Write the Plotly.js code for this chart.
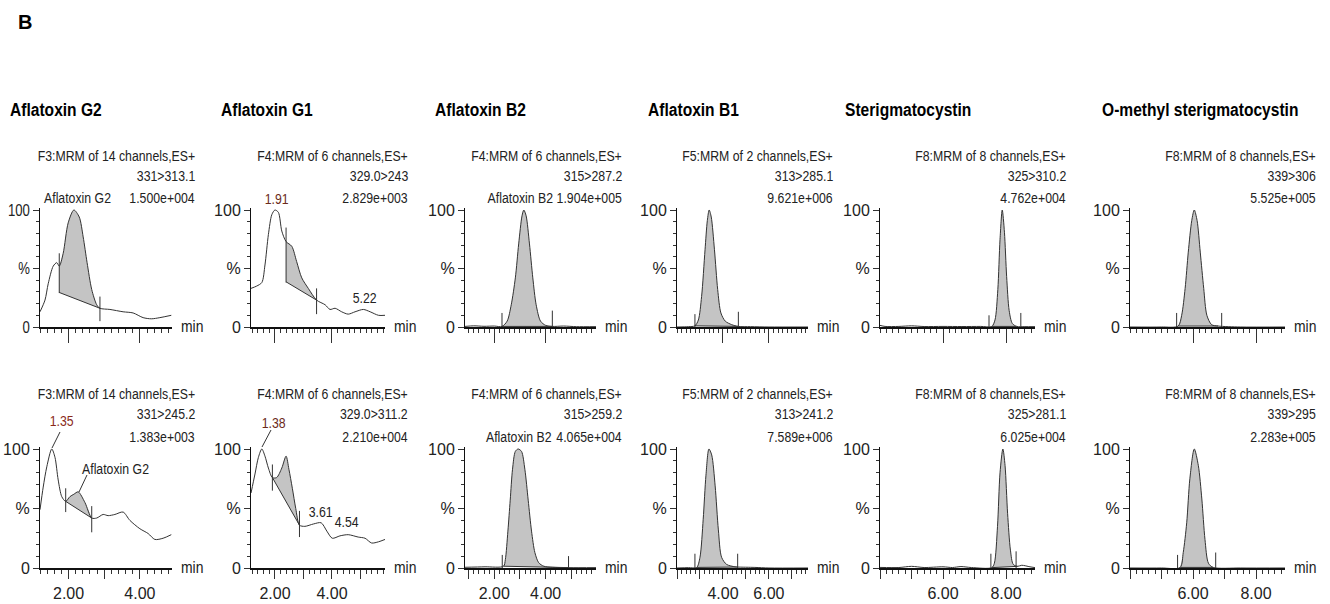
<!DOCTYPE html>
<html><head><meta charset="utf-8">
<script src="https://cdn.plot.ly/plotly-3.0.1.min.js"></script>
<style>html,body{margin:0;padding:0;background:#fff}#chart{width:1330px;height:604px}</style>
</head><body><div id="chart"></div>
<script>
// ---------- DATA (retention time in min, relative intensity %) ----------
// Aflatoxin G2 331>313.1
const g2aT = [1.20,1.34,1.43,1.57,1.67,1.74,1.85,1.99,2.15,2.30,2.41,2.52,2.65,2.79,2.88,3.16,3.53,3.81,4.09,4.32,4.56,4.88];
const g2aY = [13,23,37,52,55,52,63,89,100,94,77,55,32,19,16,15,13,12,8,7,8,10];
const g2aPeak = [1.74, 2.88], g2aBase = [29.5, 16];
const g2aMarks = [[1.74, 29, 63], [2.88, 5, 26]];
// Aflatoxin G2 331>245.2
const g2bT = [1.20,1.29,1.39,1.53,1.62,1.71,1.81,1.92,2.04,2.15,2.27,2.46,2.65,2.79,2.97,3.11,3.30,3.53,3.72,4.00,4.23,4.42,4.65,4.88];
const g2bY = [49,68,85,100,93,74,60,56,60,62,64,55,42,42,45,44,45,47,40,33,29,24,25,28];
const g2bPeak = [1.92, 2.65], g2bBase = [56, 42];
const g2bMarks = [[1.92, 47, 67], [2.65, 30, 52]];
// Aflatoxin G1 329.0>243
const g1aT = [1.16,1.36,1.54,1.65,1.77,1.89,2.00,2.12,2.24,2.39,2.59,2.76,2.94,3.17,3.46,3.76,3.93,4.11,4.34,4.57,4.81,5.10,5.34,5.63,5.86];
const g1aY = [33,35,38,53,79,96,100,98,82,73,69,56,42,33,23,19,15,16,13,11,13,15,13,10,10];
const g1aPeak = [2.39, 3.46], g1aBase = [38.6, 23];
const g1aMarks = [[2.39, 38, 85], [3.46, 11, 33]];
// Aflatoxin G1 329.0>311.2
const g1bT = [1.16,1.30,1.42,1.54,1.65,1.77,1.91,2.06,2.24,2.39,2.49,2.61,2.73,2.86,3.05,3.35,3.62,3.82,4.01,4.28,4.57,4.92,5.16,5.39,5.63,5.86];
const g1bY = [63,79,93,100,94,84,76,76,84,94,83,67,50,36,35,37,38,31,25,27,28,26,25,21,22,24];
const g1bPeak = [1.91, 2.86], g1bBase = [76, 36];
const g1bMarks = [[1.91, 65, 87], [2.86, 26, 48]];
// Aflatoxin B2 315>287.2
const b2aT = [0.86,1.20,1.60,2.00,2.30,2.50,2.66,2.82,2.95,3.08,3.15,3.24,3.37,3.50,3.63,3.80,4.00,4.26,4.70,5.20,5.96];
const b2aY = [0.5,1,0.6,0.8,0.5,5,19,42,71,95,100,95,71,42,19,5,1.4,0.5,0.8,0.3,0.3];
const b2aPeak = [2.30, 4.26], b2aBase = [0.5, 0.5];
const b2aMarks = [[2.30, 0, 12], [4.26, 0, 14]];
// Aflatoxin B2 315>259.2
const b2bT = [0.86,1.64,2.36,2.43,2.53,2.62,2.71,2.82,2.93,3.06,3.19,3.32,3.45,3.58,3.73,3.93,4.26,4.91,5.96];
const b2bY = [0.6,1,1.5,7,31,57,83,98,100,98,83,57,31,13,4.4,1.5,0.6,0.3,0.3];
const b2bPeak = [2.36, 4.91], b2bBase = [1.5, 0.3];
const b2bMarks = [[2.31, 0, 11], [4.89, 0, 10]];
// Aflatoxin B1 313>285.1
const b1aT = [2.00,2.50,2.78,2.93,3.07,3.22,3.32,3.40,3.49,3.63,3.77,3.91,4.10,4.38,4.67,5.20,6.00,7.70];
const b1aY = [0,0.3,1,6,26,66,91,100,94,66,32,12,5,2,0.5,0.3,0,0];
const b1aPeak = [2.78, 4.67], b1aBase = [1, 0.5];
const b1aMarks = [[2.78, 0, 11], [4.67, 0, 13]];
// Aflatoxin B1 313>241.2
const b1bT = [2.00,2.50,2.86,3.00,3.14,3.26,3.39,3.51,3.66,3.80,3.94,4.16,4.52,4.64,5.39,6.00,7.70];
const b1bY = [0,0.3,0.5,9,41,78,100,95,69,32,9,3,1,0.8,0.5,0,0];
const b1bPeak = [2.86, 4.64], b1bBase = [0.5, 0.8];
const b1bMarks = [[2.78, 0, 12], [4.64, 0, 12]];
// Sterigmatocystin 325>310.2
const stAT = [4.00,4.16,4.60,5.00,5.40,6.00,6.60,7.20,7.55,7.65,7.74,7.81,7.88,7.95,8.02,8.10,8.20,8.34,8.60,8.92];
const stAY = [1.4,0.5,0.5,1,0.4,0.5,0.4,0.5,0.5,6,32,75,100,81,43,14,3,0.5,0.3,0.3];
const stAPeak = [7.55, 8.34], stABase = [0.5, 0.5];
const stAMarks = [[7.46, 0, 10], [8.47, 0, 12]];
// Sterigmatocystin 325>281.1
const stBT = [4.00,4.60,5.00,5.40,6.00,6.30,6.57,6.90,7.55,7.63,7.73,7.81,7.90,7.97,8.05,8.14,8.23,8.37,8.50,8.76,8.92];
const stBY = [0.5,0.4,1.4,0.4,1.0,0.4,1.2,0.4,0.3,4,35,80,100,86,46,15,3,1.4,2.3,1,0.3];
const stBPeak = [7.55, 8.37], stBBase = [0.3, 1.4];
const stBMarks = [[7.52, 0, 12], [8.32, 0, 14]];
// O-methyl sterigmatocystin 339>306
const omAT = [4.00,5.00,5.53,5.64,5.75,5.85,5.96,6.04,6.13,6.23,6.34,6.44,6.59,6.80,7.50,8.92];
const omAY = [0,0,0.8,10,33,64,91,100,91,64,33,10,2,0.8,0,0];
const omAPeak = [5.53, 6.80], omABase = [0.8, 0.8];
const omAMarks = [[5.48, 0, 12], [6.91, 0, 12]];
// O-methyl sterigmatocystin 339>295
const omBT = [4.00,5.00,5.59,5.69,5.80,5.90,6.04,6.17,6.28,6.38,6.49,6.64,7.50,8.92];
const omBY = [0,0,0.5,13,38,75,100,86,58,24,4,0.5,0,0];
const omBPeak = [5.59, 6.64], omBBase = [0.5, 0.5];
const omBMarks = [[5.51, 0, 11], [6.72, 0, 13]];

// texts
const panelTitles = ['Aflatoxin G2','Aflatoxin G1','Aflatoxin B2','Aflatoxin B1','Sterigmatocystin','O-methyl sterigmatocystin'];
const headerTop = [
  ['F3:MRM of 14 channels,ES+','331>313.1','1.500e+004'],
  ['F4:MRM of 6 channels,ES+','329.0>243','2.829e+003'],
  ['F4:MRM of 6 channels,ES+','315>287.2','Aflatoxin B2 1.904e+005'],
  ['F5:MRM of 2 channels,ES+','313>285.1','9.621e+006'],
  ['F8:MRM of 8 channels,ES+','325>310.2','4.762e+004'],
  ['F8:MRM of 8 channels,ES+','339>306','5.525e+005']];
const headerBottom = [
  ['F3:MRM of 14 channels,ES+','331>245.2','1.383e+003'],
  ['F4:MRM of 6 channels,ES+','329.0>311.2','2.210e+004'],
  ['F4:MRM of 6 channels,ES+','315>259.2','4.065e+004'],
  ['F5:MRM of 2 channels,ES+','313>241.2','7.589e+006'],
  ['F8:MRM of 8 channels,ES+','325>281.1','6.025e+004'],
  ['F8:MRM of 8 channels,ES+','339>295','2.283e+005']];
const xLabelled = [[2,4],[2,4],[2,4],[4,6],[6,8],[6,8]];
const yTickVals = [0,50,100], yTickText = ['0','%','100'];

// ---------- LAYOUT GEOMETRY ----------
const W = 1330, H = 604;
const FONT = "'Liberation Sans',Arial,sans-serif";
const NARROW = 0.82;   // horizontal squeeze to imitate a narrow face
const TXT = '#222';
const colPx = [[40,172],[251,385],[465,596],[677,808],[880,1035],[1130,1285]];
const xRanges = [[1.20,4.90],[1.16,5.86],[0.86,5.96],[2.0,7.7],[4.0,8.92],[4.0,8.92]];
const rowPx = [[210,327],[449,568]];
const headerRight = [197,410,624,835,1068,1318];
const titleLeft = [8,219,433,646,843,1100];
const headerY = [[155,176,197],[393,414,436]];

const panels = [
  [g2aT,g2aY,g2aPeak,g2aBase,g2aMarks],[g1aT,g1aY,g1aPeak,g1aBase,g1aMarks],
  [b2aT,b2aY,b2aPeak,b2aBase,b2aMarks],[b1aT,b1aY,b1aPeak,b1aBase,b1aMarks],
  [stAT,stAY,stAPeak,stABase,stAMarks],[omAT,omAY,omAPeak,omABase,omAMarks],
  [g2bT,g2bY,g2bPeak,g2bBase,g2bMarks],[g1bT,g1bY,g1bPeak,g1bBase,g1bMarks],
  [b2bT,b2bY,b2bPeak,b2bBase,b2bMarks],[b1bT,b1bY,b1bPeak,b1bBase,b1bMarks],
  [stBT,stBY,stBPeak,stBBase,stBMarks],[omBT,omBY,omBPeak,omBBase,omBMarks]];

const px = v => v / W, py = v => 1 - v / H;
const traces = [], layout = {
  width: W, height: H, margin: {l:0,r:0,t:0,b:0}, showlegend: false,
  paper_bgcolor: '#fff', plot_bgcolor: 'rgba(0,0,0,0)',
  annotations: [], shapes: []
};
const LINE = '#333';

panels.forEach((p, i) => {
  const row = i < 6 ? 0 : 1, col = i % 6, n = i + 1;
  const xs = n === 1 ? '' : String(n);
  const [T, Y, peak, base, marks] = p;
  const xa = 'x' + xs, ya = 'y' + xs;
  traces.push({x: peak, y: base, xaxis: xa, yaxis: ya, type: 'scatter', mode: 'lines',
    line: {color: LINE, width: 1}, hoverinfo: 'skip'});
  const sx = [], sy = [];
  T.forEach((t, k) => { if (t >= peak[0] - 1e-9 && t <= peak[1] + 1e-9) { sx.push(t); sy.push(Y[k]); } });
  traces.push({x: sx, y: sy, xaxis: xa, yaxis: ya, type: 'scatter', mode: 'lines', fill: 'tonexty',
    fillcolor: '#c4c4c4', line: {color: 'rgba(0,0,0,0)', width: 0, shape: 'spline', smoothing: 0.8}, hoverinfo: 'skip'});
  traces.push({x: T, y: Y, xaxis: xa, yaxis: ya, type: 'scatter', mode: 'lines',
    line: {color: LINE, width: 1, shape: 'spline', smoothing: 0.8}, hoverinfo: 'skip'});
  const mx = [], my = [];
  marks.forEach(m => { mx.push(m[0], m[0], null); my.push(m[1], m[2], null); });
  traces.push({x: mx, y: my, xaxis: xa, yaxis: ya, type: 'scatter', mode: 'lines',
    line: {color: LINE, width: 1}, hoverinfo: 'skip'});

  const [l, r] = colPx[col], [top, bot] = rowPx[row];
  const topExt = bot - (bot - top) * 1.02;
  const xr = xRanges[col];
  const tv = [], tt = [];
  for (let v = Math.ceil(xr[0]); v <= xr[1]; v++) { tv.push(v); tt.push(xLabelled[col].includes(v) ? v.toFixed(2) : ''); }
  layout['xaxis' + xs] = {domain: [px(l), px(r)], range: xr, anchor: ya, showgrid: false, zeroline: false,
    showline: true, linecolor: '#111', linewidth: 2, ticks: 'outside', tickvals: tv, ticktext: tt,
    ticklen: row ? 9 : 14, tickwidth: 1, tickcolor: LINE, showticklabels: row === 1,
    tickfont: {family: FONT, size: 16, color: TXT}, ticklabelstandoff: 1,
    minor: {dtick: 0.2, tick0: 0, ticks: 'outside', ticklen: 4, tickcolor: LINE, tickwidth: 1, showgrid: false},
    fixedrange: true};
  layout['yaxis' + xs] = {domain: [py(bot), py(topExt)], range: [0, 102], anchor: xa, showgrid: false, zeroline: false,
    showline: true, linecolor: '#111', linewidth: 1, ticks: 'outside', tickvals: yTickVals, ticktext: yTickText,
    ticklen: 6, tickwidth: 1, tickcolor: LINE, tickfont: {family: FONT, size: 16, color: TXT},
    minor: {dtick: 10, ticks: 'outside', ticklen: 3, tickcolor: LINE, tickwidth: 1, showgrid: false},
    fixedrange: true};
  layout.annotations.push({text: 'min', xref: 'paper', yref: 'paper', x: px(r + 7), y: py(bot - 1),
    xanchor: 'left', yanchor: 'middle', showarrow: false, font: {family: FONT, size: 17, color: TXT}});
  const hdr = row ? headerBottom[col] : headerTop[col];
  hdr.forEach((s, k) => layout.annotations.push({text: s, xref: 'paper', yref: 'paper',
    x: px(headerRight[col]), y: py(headerY[row][k]), xanchor: 'right', yanchor: 'middle', showarrow: false,
    font: {family: FONT, size: 15, color: TXT}}));
});

const ann = (text, x, y, opts = {}) => layout.annotations.push(Object.assign({text, xref: 'paper', yref: 'paper',
  x: px(x), y: py(y), xanchor: 'center', yanchor: 'middle', showarrow: false,
  font: {family: FONT, size: 15, color: TXT}}, opts));
panelTitles.forEach((t, c) => ann('<b>' + t + '</b>', titleLeft[c], 110,
  {xanchor: 'left', font: {family: FONT, size: 19, color: '#000'}}));
ann('Aflatoxin G2', 42, 197, {xanchor: 'left'});
ann('Aflatoxin B2', 484, 436, {xanchor: 'left'});
ann('Aflatoxin G2', 80, 468, {xanchor: 'left'});
const PK = '#6b2a1a';
ann('1.91', 276, 199, {font: {family: FONT, size: 15, color: PK}});
ann('5.22', 364, 297, {font: {family: FONT, size: 15, color: TXT}});
ann('1.35', 61, 421, {font: {family: FONT, size: 15, color: '#8a2a1a'}});
ann('1.38', 273, 422, {font: {family: FONT, size: 15, color: PK}});
ann('3.61', 320, 511, {font: {family: FONT, size: 15, color: TXT}});
ann('4.54', 346, 521, {font: {family: FONT, size: 15, color: TXT}});
const nNarrow = layout.annotations.length;
ann('<b>B</b>', 16, 22, {xanchor: 'left', font: {family: FONT, size: 20, color: '#000'}});

const lead = (x0, y0, x1, y1) => layout.shapes.push({type: 'line', xref: 'paper', yref: 'paper',
  x0: px(x0), y0: py(y0), x1: px(x1), y1: py(y1), line: {color: LINE, width: 1}});
lead(52, 448, 60, 432);
lead(79, 492, 87, 475);
lead(262, 447, 271, 430);

function squeeze(el, anchor, s) {
  const b = el.getBBox();
  if (!b.width) return;
  const p = (anchor === 'right' || anchor === 'end') ? b.x + b.width
          : (anchor === 'left' || anchor === 'start') ? b.x : b.x + b.width / 2;
  const prev = el.getAttribute('transform') || '';
  el.setAttribute('transform', prev + ' translate(' + p + ',0) scale(' + s + ',1) translate(' + (-p) + ',0)');
}

Plotly.newPlot('chart', traces, layout, {displayModeBar: false, staticPlot: true}).then(gd => {
  gd.querySelectorAll('.annotation').forEach(g => {
    const idx = +g.getAttribute('data-index');
    if (idx >= nNarrow) return;
    const t = g.querySelector('text.annotation-text');
    if (t) squeeze(t, layout.annotations[idx].xanchor, NARROW);
  });
  gd.querySelectorAll('.xtick text').forEach(t => squeeze(t, 'middle', NARROW));
  gd.querySelectorAll('.ytick text').forEach(t => squeeze(t, 'end', NARROW));
});
</script></body></html>
